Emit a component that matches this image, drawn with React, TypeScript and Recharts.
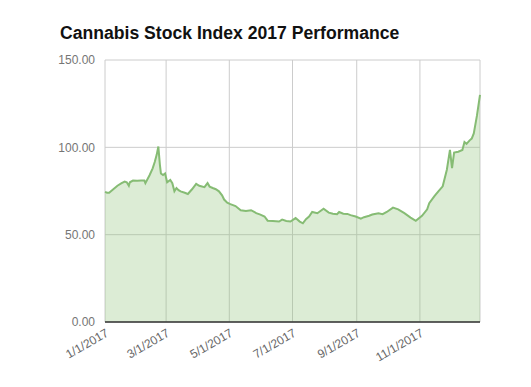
import React from 'react';
import { AreaChart, Area, XAxis, YAxis, CartesianGrid } from 'recharts';

const days = [
  0, 2, 4, 8, 12, 16, 19, 21, 23, 24, 27, 31, 35, 38, 39, 43, 46, 48, 50, 51.5,
  53, 54, 56, 58, 60, 63, 65, 67, 69, 71, 73, 77, 80, 84, 88, 91, 96, 99, 101, 104,
  107, 110, 113, 115, 118, 121, 126, 131, 136, 141, 144, 146, 150, 154, 157, 162, 168, 171, 175, 179,
  184, 188, 191, 194, 197, 200, 205, 211, 216, 220, 224, 226, 230, 234, 237, 242, 247, 250, 255, 258,
  264, 268, 272, 278, 283, 289, 295, 300, 306, 311, 313, 318, 322, 326, 330, 333, 335, 337, 341, 345,
  347, 349, 352, 354, 356, 359, 362,
];

const values = [
  74.5, 74.0, 74.0, 76.0, 78.0, 79.5, 80.4, 80.0, 78.0, 80.0, 81.0, 80.8, 81.0, 81.0, 79.5, 84.0, 88.0, 91.6, 96.0, 100.5,
  90.0, 85.0, 84.1, 85.0, 80.0, 81.3, 79.5, 74.8, 76.7, 75.5, 74.8, 74.0, 73.3, 76.0, 79.1, 78.0, 77.2, 79.5, 77.5, 76.7,
  76.0, 74.8, 72.5, 70.1, 68.3, 67.5, 66.4, 64.0, 63.5, 64.0, 63.0, 62.3, 61.5, 60.4, 58.0, 57.8, 57.5, 58.6, 57.8, 57.5,
  59.5, 57.5, 56.5, 58.9, 60.4, 63.0, 62.3, 64.9, 62.6, 62.0, 61.7, 63.0, 62.0, 61.9, 61.2, 60.4, 59.2, 60.0, 60.8, 61.5,
  62.3, 61.7, 63.0, 65.5, 64.5, 62.3, 59.8, 57.9, 60.8, 64.5, 68.0, 72.1, 74.9, 77.7, 87.2, 98.5, 88.1, 97.0, 97.5, 98.5,
  103.0, 102.0, 104.0, 105.0, 108.0, 118.0, 130.0,
];

const tickDays = [0, 59, 120, 181, 243, 304];
const tickLabels = ['1/1/2017', '3/1/2017', '5/1/2017', '7/1/2017', '9/1/2017', '11/1/2017'];
const yTicks = [0, 50, 100, 150];

const data = days.map((d, i) => ({ day: d, value: values[i] }));

export default function App() {
  return (
    <div style={{ position: 'absolute', left: 0, top: 0, width: 531, height: 387, background: '#fff' }}>
      <div
        style={{
          position: 'absolute',
          left: 60,
          top: 23,
          fontFamily: '"Liberation Sans", Arial, sans-serif',
          fontWeight: 'bold',
          fontSize: 17.6,
          lineHeight: '20px',
          color: '#111',
          whiteSpace: 'nowrap',
        }}
      >
        Cannabis Stock Index 2017 Performance
      </div>
      <AreaChart
        width={531}
        height={387}
        data={data}
        margin={{ top: 60, right: 51, bottom: 0, left: 0 }}
        style={{ fontFamily: '"Liberation Sans", Arial, sans-serif' }}
      >
        <CartesianGrid stroke="#cccccc" strokeWidth={1} />
        <XAxis
          dataKey="day"
          type="number"
          domain={[0, 362]}
          ticks={tickDays}
          interval={0}
          tickFormatter={(v: number) => tickLabels[tickDays.indexOf(v)]}
          height={65}
          angle={-30}
          tickLine={false}
          axisLine={{ stroke: '#333333', strokeWidth: 1.5 }}
          tickMargin={0}
          tick={{ fill: '#666666', fontSize: 12, textAnchor: 'end' }}
        />
        <YAxis
          type="number"
          domain={[0, 150]}
          ticks={yTicks}
          interval={0}
          width={105}
          tickLine={false}
          axisLine={false}
          tickMargin={4}
          tickFormatter={(v: number) => v.toFixed(2)}
          tick={{ fill: '#757575', fontSize: 12 }}
        />
        <Area
          type="linear"
          dataKey="value"
          stroke="#86bc74"
          strokeWidth={2}
          fill="#93c47d"
          fillOpacity={0.32}
          isAnimationActive={false}
          dot={false}
          activeDot={false}
        />
      </AreaChart>
    </div>
  );
}
